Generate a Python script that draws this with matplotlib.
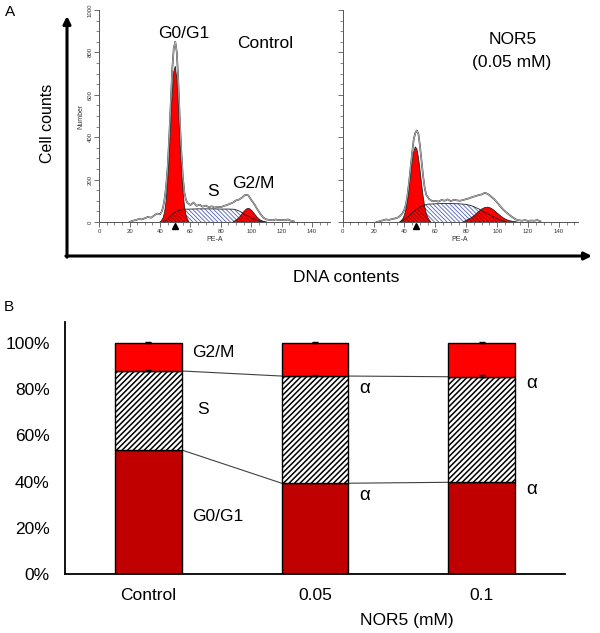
import numpy as np
import matplotlib
matplotlib.use('Agg')
import matplotlib.pyplot as plt
from matplotlib.ticker import MultipleLocator, FuncFormatter

plt.rcParams['font.family'] = ['Liberation Sans', 'DejaVu Sans']
plt.rcParams['hatch.linewidth'] = 0.6

# ---------------- Panel A data ----------------
# Control histogram (measured line)
ctrl_data_x = [20, 22, 24, 26, 28, 30, 32, 34, 36, 38, 40, 41, 42, 43, 44, 45, 46, 47, 48, 49,
               50, 51, 52, 53, 54, 55, 56, 57, 58, 60, 62, 64, 66, 68, 70, 72, 74, 76, 78, 80,
               82, 84, 86, 88, 90, 92, 94, 96, 98, 100, 102, 104, 106, 108, 110, 112, 114, 116, 118, 120,
               122, 124, 126, 128]
ctrl_data_y = [0, 6, 9, 14, 12, 18, 24, 20, 30, 40, 36, 48, 70, 110, 170, 260, 400, 560, 720, 820,
               850, 800, 660, 480, 330, 210, 140, 105, 90, 80, 92, 76, 82, 72, 78, 70, 74, 68, 72, 70,
               76, 80, 86, 92, 102, 106, 116, 128, 126, 104, 84, 60, 38, 20, 12, 10, 8, 12, 9, 10,
               8, 12, 6, 3]
# Control fitted components
ctrl_g1_x = [40, 41, 42, 43, 44, 45, 46, 47, 48, 49, 50, 51, 52, 53, 54, 55, 56, 57, 58, 59]
ctrl_g1_y = [0, 7, 20, 47, 100, 187, 312, 462, 607, 709, 734, 676, 552, 400, 258, 148, 75, 34, 13, 0]
ctrl_s_x = [42, 44, 46, 48, 50, 52, 55, 60, 65, 70, 75, 80, 85, 89, 92, 95, 98, 101, 104, 107, 109]
ctrl_s_y = [0, 10, 24, 37, 47, 54, 60, 61, 62, 62, 62, 61, 61, 60, 52, 40, 28, 17, 8, 2, 0]
ctrl_g2_x = [88, 90, 92, 94, 95, 96, 97, 98, 99, 100, 101, 102, 104, 106, 108, 110]
ctrl_g2_y = [0, 9, 21, 39, 48, 56, 62, 64, 62, 56, 48, 39, 21, 9, 3, 0]
ctrl_marker = 49.8

# NOR5 0.05 mM histogram
nor_data_x = [22, 24, 26, 28, 30, 32, 34, 36, 37, 38, 39, 40, 41, 42, 43, 44, 45, 46, 47, 48,
              49, 50, 51, 52, 53, 54, 56, 58, 60, 62, 64, 66, 68, 70, 72, 74, 76, 78, 80, 82,
              84, 86, 88, 90, 92, 94, 96, 98, 100, 102, 104, 106, 108, 110, 112, 114, 116, 118, 120, 122,
              124, 126, 128]
nor_data_y = [0, 4, 8, 12, 10, 14, 17, 22, 28, 35, 45, 60, 85, 130, 190, 260, 330, 390, 420, 432,
              415, 360, 290, 220, 165, 130, 108, 98, 100, 96, 104, 100, 107, 98, 105, 102, 100, 104, 108, 112,
              118, 122, 127, 130, 138, 132, 120, 108, 92, 74, 58, 45, 33, 22, 12, 8, 6, 9, 5, 7,
              6, 9, 3]
nor_g1_x = [37, 38, 39, 40, 41, 42, 43, 44, 45, 46, 47, 48, 49, 50, 51, 52, 53, 54, 55, 56, 57]
nor_g1_y = [0, 7, 16, 33, 61, 103, 158, 222, 284, 332, 354, 345, 306, 248, 183, 124, 76, 43, 22, 10, 0]
nor_s_x = [37, 40, 43, 46, 49, 52, 55, 60, 65, 70, 75, 80, 84, 88, 92, 96, 100, 104, 106]
nor_s_y = [0, 12, 30, 50, 66, 78, 84, 86, 87, 87, 86, 83, 75, 62, 46, 30, 16, 5, 0]
nor_g2_x = [78, 80, 82, 84, 86, 88, 90, 92, 94, 96, 98, 100, 102, 104, 106, 108, 110, 113]
nor_g2_y = [0, 8, 15, 24, 36, 49, 61, 68, 70, 65, 55, 42, 30, 19, 11, 6, 3, 0]
nor_marker = 47.5

# ---------------- Panel B data ----------------
categories = ['Control', '0.05', '0.1']
g0g1 = np.array([53.7, 39.3, 39.7])
s_phase = np.array([34.2, 46.4, 45.7])
g2m = np.array([12.1, 14.3, 14.6])
err_up = np.array([0.6, 0.6, 0.6])
ytick_vals = [0, 20, 40, 60, 80, 100]

W, H = 600, 633
fig = plt.figure(figsize=(W / 100, H / 100), dpi=100)


def rect(l, t, r, b):
    return [l / W, 1 - b / H, (r - l) / W, (b - t) / H]


ov = fig.add_axes([0, 0, 1, 1])
ov.set_xlim(0, W)
ov.set_ylim(H, 0)
ov.axis('off')

HATCH = '\\' * 8


def draw_hist(ax, dx, dy, g1x, g1y, sx, sy, g2x, g2y, mark, ylabels):
    ax.fill_between(sx, 0, sy, facecolor='white', edgecolor='#4f5fc4', hatch=HATCH,
                    linewidth=0, zorder=1)
    ax.plot(sx, sy, color='#222222', lw=0.6, zorder=4)
    for gx, gy in [(g1x, g1y), (g2x, g2y)]:
        poly = ax.fill(gx, gy, facecolor='#ff0000', edgecolor='none', zorder=2)[0]
        over = ax.fill_between(sx, 0, sy, facecolor='none', edgecolor='#9a0000', hatch=HATCH,
                               linewidth=0, zorder=3)
        over.set_clip_path(poly)
        ax.plot(gx, gy, color='#222222', lw=0.6, zorder=4)
    ax.plot(dx, dy, color='#404040', lw=1.2, zorder=5)
    ax.plot(dx, dy, color='white', lw=0.35, zorder=6)
    ax.plot([mark], [-19], marker='^', color='black', ms=4.5, clip_on=False, zorder=7)
    ax.set_xlim(0, 152)
    ax.set_ylim(0, 1000)
    for sp in ['top', 'right']:
        ax.spines[sp].set_visible(False)
    for sp in ['left', 'bottom']:
        ax.spines[sp].set_color('#555555')
        ax.spines[sp].set_linewidth(0.7)
    ax.xaxis.set_major_locator(MultipleLocator(20))
    ax.xaxis.set_minor_locator(MultipleLocator(5))
    ax.yaxis.set_major_locator(MultipleLocator(200))
    ax.yaxis.set_minor_locator(MultipleLocator(50))
    ax.tick_params(which='major', length=3.5, width=0.6, color='#555555', labelsize=4.3,
                   pad=1.5, labelcolor='#333333')
    ax.tick_params(which='minor', length=2, width=0.5, color='#555555')
    ax.tick_params(axis='y', labelrotation=90)
    if not ylabels:
        ax.tick_params(axis='y', labelleft=False)
    else:
        for lab in ax.get_yticklabels():
            lab.set_va('center')
        ax.set_ylabel('Number', fontsize=5, labelpad=2, color='#333333')
    ax.set_xlabel('PE-A', fontsize=5, labelpad=1.5, color='#333333')
    ax.patch.set_visible(False)


ax1 = fig.add_axes(rect(99.3, 10, 330.3, 222))
draw_hist(ax1, ctrl_data_x, ctrl_data_y, ctrl_g1_x, ctrl_g1_y, ctrl_s_x, ctrl_s_y,
          ctrl_g2_x, ctrl_g2_y, ctrl_marker, True)
ax2 = fig.add_axes(rect(342.7, 10, 577.5, 222))
draw_hist(ax2, nor_data_x, nor_data_y, nor_g1_x, nor_g1_y, nor_s_x, nor_s_y,
          nor_g2_x, nor_g2_y, nor_marker, False)

# frame arrows of panel A
ov.annotate('', xy=(67, 16), xytext=(67, 257.2),
            arrowprops=dict(arrowstyle='-|>', lw=2.2, color='black', mutation_scale=11,
                            shrinkA=0, shrinkB=0))
ov.annotate('', xy=(592, 256), xytext=(65.9, 256),
            arrowprops=dict(arrowstyle='-|>', lw=2.2, color='black', mutation_scale=11,
                            shrinkA=0, shrinkB=0))

fs = 12.5
ov.text(10, 12, 'A', fontsize=11, ha='center', va='center')
ov.text(9, 307, 'B', fontsize=11, ha='center', va='center')
ov.text(47, 123, 'Cell counts', fontsize=11.5, rotation=90, ha='center', va='center')
ov.text(346, 277, 'DNA contents', fontsize=12.5, ha='center', va='center')
ov.text(184, 33, 'G0/G1', fontsize=fs, ha='center', va='center')
ov.text(265, 43, 'Control', fontsize=fs, ha='center', va='center')
ov.text(213, 192, 'S', fontsize=fs, ha='center', va='center')
ov.text(253, 183, 'G2/M', fontsize=fs, ha='center', va='center')
ov.text(513, 40, 'NOR5', fontsize=fs, ha='center', va='center')
ov.text(512, 62, '(0.05 mM)', fontsize=fs, ha='center', va='center')

# ---------------- Panel B ----------------
plt.rcParams['hatch.linewidth'] = 1.1
axb = fig.add_axes(rect(65, 322, 565, 574))
pos = np.arange(len(categories))
w = 0.4
axb.bar(pos, g0g1, w, color='#c00000', edgecolor='black', lw=1, zorder=2)
axb.bar(pos, s_phase, w, bottom=g0g1, color='white', edgecolor='black', hatch='//////',
        lw=1, zorder=2)
s_top = g0g1 + s_phase
axb.bar(pos, g2m, w, bottom=s_top, color='#ff0000', edgecolor='black', lw=1, zorder=2)
axb.errorbar(pos, s_top, yerr=[np.zeros(3), err_up], fmt='none', ecolor='black',
             elinewidth=1, capsize=2, zorder=3)
axb.errorbar(pos, s_top + g2m, yerr=[np.zeros(3), err_up], fmt='none', ecolor='black',
             elinewidth=1, capsize=2, zorder=3)
for i in range(len(pos) - 1):
    axb.plot([pos[i] + w / 2, pos[i + 1] - w / 2], [g0g1[i], g0g1[i + 1]],
             color='#404040', lw=0.8, zorder=1)
    axb.plot([pos[i] + w / 2, pos[i + 1] - w / 2], [s_top[i], s_top[i + 1]],
             color='#404040', lw=0.8, zorder=1)

axb.set_xlim(-0.5, 2.5)
axb.set_ylim(0, 109.1)
axb.set_yticks(ytick_vals)
axb.yaxis.set_major_formatter(FuncFormatter(lambda v, p: f'{int(v)}%'))
axb.set_xticks(pos)
axb.set_xticklabels(categories)
axb.tick_params(axis='y', length=0, labelsize=fs, pad=11)
axb.tick_params(axis='x', length=0, labelsize=fs, pad=10)
for sp in ['top', 'right']:
    axb.spines[sp].set_visible(False)
for sp in ['left', 'bottom']:
    axb.spines[sp].set_linewidth(1.3)

axb.text(0.26, 95.7, 'G2/M', fontsize=fs, ha='left', va='center')
axb.text(0.33, 71.4, 'S', fontsize=fs, ha='center', va='center')
axb.text(0.26, 24.7, 'G0/G1', fontsize=fs, ha='left', va='center')
for (xa, ya) in [(1.265, 80.5), (1.265, 34.2), (2.27, 82.3), (2.27, 36.4)]:
    axb.text(xa, ya, 'α', fontsize=fs + 1, ha='left', va='center')

ov.text(407, 620, 'NOR5 (mM)', fontsize=fs, ha='center', va='center')

fig.savefig('out.png', dpi=100)
